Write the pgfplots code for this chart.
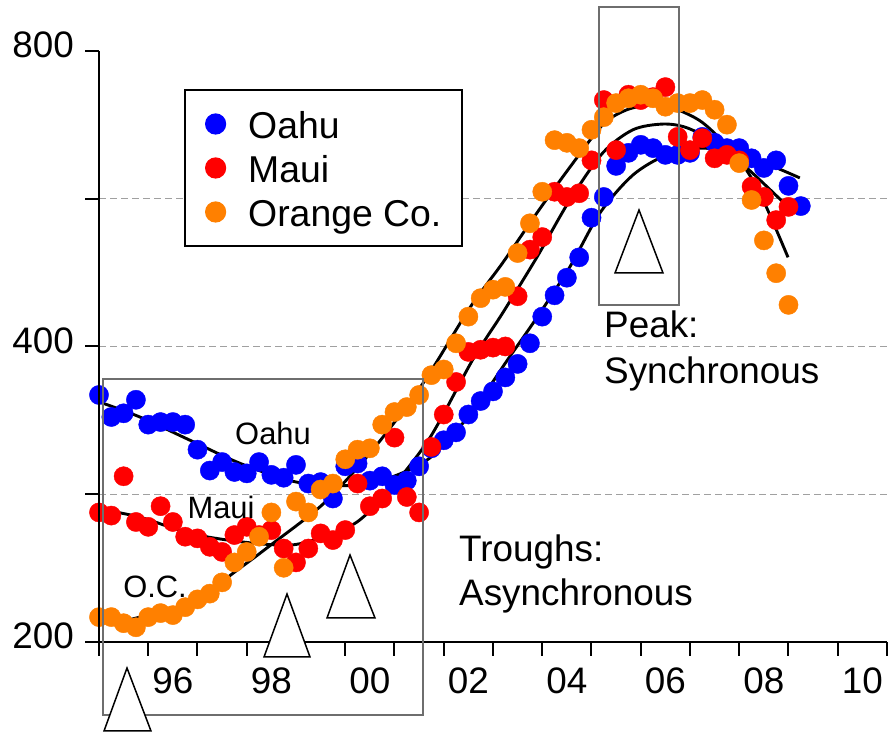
\documentclass[border=0pt]{standalone}
\usepackage{fontspec}
\setmainfont{Liberation Sans}
\usepackage{pgfplots}
\pgfplotsset{compat=1.18}
\definecolor{cOahu}{RGB}{0,0,255}
\definecolor{cMaui}{RGB}{255,0,0}
\definecolor{cOC}{RGB}{255,128,0}
\definecolor{boxgray}{RGB}{110,110,110}
\definecolor{gridgray}{RGB}{160,160,160}
\begin{document}
\begin{tikzpicture}
\useasboundingbox (0,0) rectangle (888bp,734bp);
\begin{axis}[
  at={(99bp,92bp)}, anchor=south west,
  scale only axis, width=788bp, height=591bp,
  xmin=1995, xmax=2011, ymin=200, ymax=800,
  ymode=log, log basis y=2,
  axis lines=left, axis line style={-, line width=2.2bp},
  tick align=outside, major tick length=14bp,
  tick style={line width=2bp, black},
  xtick={1995,...,2011},
  xticklabels={,96,,98,,00,,02,,04,,06,,08,,10},
  x tick label as interval,
  ytick={200,400,800}, yticklabels={200,400,800},
  extra y ticks={282.84,400,565.69}, extra y tick labels={},
  extra y tick style={grid=major, major grid style={dash pattern=on 7bp off 4bp, line width=1bp, color=gridgray}},
  clip=false,
  /pgf/number format/assume math mode=true,
  tick label style={font=\fontsize{37}{40}\selectfont, inner sep=0pt},
  xticklabel style={yshift=-12bp},
  yticklabel style={xshift=-11bp, yshift=6bp},
  legend style={at={(0.1079,0.9357)}, anchor=north west, draw=black, line width=2bp, fill=white,
    inner xsep=21bp, inner ysep=12bp, row sep=0bp, column sep=23bp,
    font=\fontsize{37.5}{40}\selectfont, nodes={inner sep=0pt, text height=37bp, text depth=7bp}},
  legend cell align=left,
  legend image code/.code={\draw[#1] plot coordinates {(0bp,0bp)};},
]
% Oahu
\addplot[only marks, mark=*, mark size=9.6bp, color=cOahu, mark options={draw=none, fill=cOahu}] coordinates {
(1995.00,357)(1995.25,339)(1995.50,342)(1995.75,353)(1996.00,333)(1996.25,335)(1996.50,335)(1996.75,333)
(1997.00,314)(1997.25,299)(1997.50,305)(1997.75,298)(1998.00,297)(1998.25,305)(1998.50,296)(1998.75,294)
(1999.00,303)(1999.25,290)(1999.50,291)(1999.75,280)(2000.00,302)(2000.25,304)(2000.50,292)(2000.75,295)
(2001.00,289)(2001.25,292)(2001.50,302)(2001.75,315)(2002.00,321)(2002.25,327)(2002.50,341)(2002.75,352)
(2003.00,360)(2003.25,372)(2003.50,384)(2003.75,403)(2004.00,429)(2004.25,451)(2004.50,470)(2004.75,493)
(2005.00,541)(2005.25,568)(2005.50,611)(2005.75,630)(2006.00,642)(2006.25,637)(2006.50,627)(2006.75,627)
(2007.00,630)(2007.25,654)(2007.50,645)(2007.75,637)(2008.00,637)(2008.25,622)(2008.50,608)(2008.75,619)
(2009.00,583)(2009.25,556)};
% Maui
\addplot[only marks, mark=*, mark size=9.6bp, color=cMaui, mark options={draw=none, fill=cMaui}] coordinates {
(1995.00,271)(1995.25,269)(1995.50,295)(1995.75,265)(1996.00,262)(1996.25,275)(1996.50,265)(1996.75,256)
(1997.00,255)(1997.25,250)(1997.50,247)(1997.75,257)(1998.00,262)(1998.25,257)(1998.50,260)(1998.75,249)
(1999.00,241)(1999.25,249)(1999.50,258)(1999.75,254)(2000.00,260)(2000.25,290)(2000.50,275)(2000.75,280)
(2001.00,323)(2001.25,281)(2001.50,271)(2001.75,316)(2002.00,341)(2002.25,368)(2002.50,395)(2002.75,397)
(2003.00,399)(2003.25,400)(2003.50,450)(2003.75,502)(2004.00,517)(2004.25,575)(2004.50,568)(2004.75,573)
(2005.00,619)(2005.25,713)(2005.50,634)(2005.75,722)(2006.00,713)(2006.25,718)(2006.50,735)(2006.75,654)
(2007.00,634)(2007.25,652)(2007.50,622)(2007.75,627)(2008.00,619)(2008.25,582)(2008.50,568)(2008.75,538)
(2009.00,555)};
% Orange Co.
\addplot[only marks, mark=*, mark size=9.6bp, color=cOC, mark options={draw=none, fill=cOC}] coordinates {
(1995.00,212)(1995.25,212)(1995.50,209)(1995.75,207)(1996.00,212)(1996.25,214)(1996.50,213)(1996.75,217)
(1997.00,221)(1997.25,224)(1997.50,230)(1997.75,241)(1998.00,247)(1998.25,256)(1998.50,271)(1998.75,238)
(1999.00,278)(1999.25,271)(1999.50,286)(1999.75,290)(2000.00,307)(2000.25,314)(2000.50,315)(2000.75,333)
(2001.00,343)(2001.25,347)(2001.50,357)(2001.75,374)(2002.00,379)(2002.25,403)(2002.50,429)(2002.75,448)
(2003.00,457)(2003.25,460)(2003.50,498)(2003.75,534)(2004.00,575)(2004.25,649)(2004.50,645)(2004.75,637)
(2005.00,665)(2005.25,685)(2005.50,708)(2005.75,716)(2006.00,722)(2006.25,716)(2006.50,702)(2006.75,708)
(2007.00,708)(2007.25,713)(2007.50,697)(2007.75,673)(2008.00,615)(2008.25,564)(2008.50,513)(2008.75,475)
(2009.00,441)};
% fitted curves
\addplot[black, line width=2.9bp, smooth, forget plot] coordinates {
(1995.02,351)(1995.83,339)(1996.85,321)(1997.87,304)(1998.88,292)(1999.55,289)(2000.24,289)(2000.91,294)
(2001.72,308)(2002.53,341)(2003.30,388)(2003.89,428)(2004.56,482)(2005.17,547)(2005.84,598)(2006.53,627)
(2007.26,637)(2007.95,627)(2008.62,612)(2009.23,594)};
\addplot[black, line width=2.9bp, smooth, forget plot] coordinates {
(1995.02,273)(1995.83,268)(1996.85,258)(1997.87,253)(1998.88,251)(1999.55,256)(2000.24,265)(2000.91,286)
(2001.72,323)(2002.59,388)(2003.20,433)(2003.89,493)(2004.56,564)(2005.23,630)(2005.84,665)(2006.45,674)
(2006.94,668)(2007.61,642)(2008.28,600)(2008.99,555)};
\addplot[black, line width=2.9bp, smooth, forget plot] coordinates {
(1995.02,211)(1995.43,210)(1995.83,212)(1996.85,219)(1997.87,238)(1998.53,252)(1999.57,277)(2000.56,314)
(2001.58,367)(2002.53,438)(2003.20,487)(2003.89,547)(2004.56,609)(2005.23,673)(2005.72,697)(2006.23,705)
(2006.65,700)(2007.26,676)(2007.95,624)(2008.42,573)(2008.99,493)};
\legend{Oahu,Maui,Orange Co.}
\end{axis}
% axis lines on top
\draw[line width=2.2bp] (99bp,683bp) -- (99bp,92bp) -- (887bp,92bp);
% boxes
\draw[boxgray, line width=1.8bp] (103bp,19bp) rectangle (423bp,355bp);
\draw[boxgray, line width=1.8bp] (599bp,429bp) rectangle (679bp,727bp);
% triangles
\begin{scope}[line width=1.5bp, line join=miter]
\filldraw[fill=white, draw=black] (127bp,66bp) -- (104bp,3bp) -- (151bp,3bp) -- cycle;
\filldraw[fill=white, draw=black] (287bp,140bp) -- (264bp,77bp) -- (310bp,77bp) -- cycle;
\filldraw[fill=white, draw=black] (350bp,179bp) -- (327bp,116bp) -- (375bp,116bp) -- cycle;
\filldraw[fill=white, draw=black] (639bp,524bp) -- (615bp,461bp) -- (663bp,461bp) -- cycle;
\end{scope}
% labels
\begin{scope}[every node/.style={inner sep=0pt}]
\node[font=\fontsize{31}{34}\selectfont] at (273bp,301bp) {Oahu};
\node[font=\fontsize{31}{34}\selectfont] at (221bp,227bp) {Maui};
\node[font=\fontsize{31}{34}\selectfont] at (155bp,147bp) {O.C.};
\node[font=\fontsize{37}{40}\selectfont, anchor=base west] at (604bp,396bp) {Peak:};
\node[font=\fontsize{37}{40}\selectfont, anchor=base west] at (604bp,350bp) {Synchronous};
\node[font=\fontsize{37}{40}\selectfont, anchor=base west] at (459bp,172bp) {Troughs:};
\node[font=\fontsize{37}{40}\selectfont, anchor=base west] at (459bp,128bp) {Asynchronous};
\end{scope}
\end{tikzpicture}
\end{document}
